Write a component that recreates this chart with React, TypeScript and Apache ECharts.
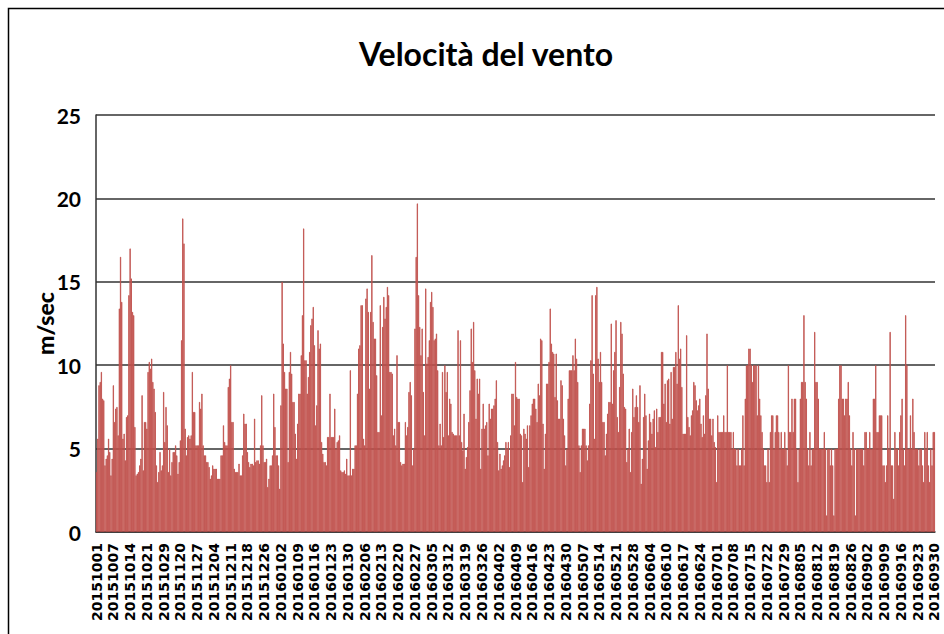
import React, { useEffect, useRef } from "react";
import * as echarts from "echarts";

const TITLE = "Velocità del vento";
const Y_NAME = "m/sec";
const Y_MIN = 0;
const Y_MAX = 25;
const Y_STEP = 5;

const TICK_LABELS = [
  "20151001", "20151007", "20151014", "20151021", "20151029", "20151120", "20151127",
  "20151204", "20151211", "20151218", "20151226", "20160102", "20160109", "20160116",
  "20160123", "20160130", "20160206", "20160213", "20160220", "20160227", "20160305",
  "20160312", "20160319", "20160326", "20160402", "20160409", "20160416", "20160423",
  "20160430", "20160507", "20160514", "20160521", "20160528", "20160604", "20160610",
  "20160617", "20160624", "20160701", "20160708", "20160715", "20160722", "20160729",
  "20160805", "20160812", "20160819", "20160826", "20160902", "20160909", "20160916",
  "20160923", "20160930",
];
const READINGS_PER_LABEL = 14;

const WIND_OCT_NOV = [
  3.6, 5.6, 8.8, 9.0, 9.6, 8.0, 7.9, 4.0, 4.4, 4.6,
  5.6, 4.8, 3.4, 4.4, 8.8, 6.6, 7.4, 7.5, 5.8, 13.4,
  16.5, 13.8, 5.6, 5.9, 4.3, 6.9, 7.0, 14.2, 17.0, 15.2,
  13.2, 13.0, 6.3, 3.4, 3.5, 3.6, 4.0, 4.4, 8.2, 3.7,
  6.6, 6.6, 6.2, 9.6, 10.2, 9.8, 10.4, 9.0, 8.6, 7.2,
  4.0, 3.0, 3.6, 4.8, 3.7, 4.0, 8.4, 5.4, 7.5, 6.4,
  3.6, 5.0, 3.4, 4.2, 4.8, 4.8, 5.2, 4.6, 3.5, 4.2,
  5.5, 11.5, 18.8, 17.3, 6.2, 4.6, 5.7, 5.8, 5.6, 5.8,
  9.6, 7.2, 7.2, 5.2, 5.2, 5.2, 7.8, 7.4, 8.3, 5.2,
  4.6, 4.6, 4.2, 4.2, 3.9, 3.2, 3.4, 4.0, 3.8, 3.8,
  3.8, 3.2, 3.2, 3.2, 4.6, 4.6, 6.4, 5.4, 5.2, 5.2,
  8.7, 9.2, 10.0, 6.6, 6.6, 3.8, 3.6, 3.6,
];
const WIND_DEC_JAN = [
  3.6, 4.1, 3.4, 3.4, 4.6, 7.1, 6.5, 6.5, 4.8, 4.2,
  3.9, 4.1, 4.1, 4.0, 6.8, 4.2, 4.3, 4.3, 4.1, 5.2,
  8.2, 5.2, 4.2, 4.2, 4.4, 2.7, 3.2, 4.0, 4.0, 4.6,
  8.3, 6.3, 4.6, 4.6, 4.0, 2.6, 7.6, 15.0, 11.3, 9.6,
  8.6, 8.6, 4.2, 9.6, 10.8, 9.5, 7.8, 7.8, 5.9, 4.4,
  6.5, 8.3, 8.3, 10.6, 13.0, 18.2, 10.3, 10.3, 8.3, 9.3,
  10.8, 12.4, 12.8, 13.5, 11.2, 6.4, 7.6, 12.1, 11.0, 11.3,
  5.4, 4.7, 4.2, 4.2, 4.0, 5.7, 5.7, 8.3, 5.7, 5.7,
  5.7, 7.4, 5.0, 5.4, 5.5, 5.8, 3.7, 3.6, 3.6, 3.7,
  3.5, 4.4, 3.4, 3.4, 9.7, 3.4, 3.8, 3.8, 5.2, 5.2,
  8.3, 11.0, 11.2, 13.6, 13.6, 5.6, 5.2, 14.0, 14.6, 13.2,
  8.6, 13.2, 16.6, 12.6, 11.6, 11.6, 9.4, 6.0, 6.0,
];
const WIND_FEB_MAR = [
  13.6, 7.0, 12.3, 14.1, 12.8, 13.5, 14.7, 14.2, 9.6, 9.6,
  9.5, 5.8, 6.2, 5.2, 10.6, 6.6, 6.6, 4.2, 4.0, 4.1,
  4.1, 6.6, 5.8, 6.3, 8.4, 9.0, 8.2, 4.0, 5.0, 12.2,
  16.5, 19.7, 14.2, 12.3, 10.6, 12.2, 8.4, 5.8, 14.6, 10.1,
  10.5, 11.5, 13.8, 14.4, 13.5, 11.5, 11.6, 11.9, 9.7, 5.2,
  6.5, 5.2, 9.6, 5.7, 10.0, 8.4, 9.6, 5.8, 8.0, 7.7,
  6.0, 5.9, 5.8, 5.8, 5.8, 12.1, 5.8, 11.5, 5.4, 4.9,
  7.1, 3.8, 4.5, 5.1, 6.6, 8.5, 12.2, 10.2, 12.6, 9.7,
  6.8, 9.2, 8.3, 9.2, 3.8, 6.2, 7.7, 6.2, 6.4, 6.6,
  4.6, 7.7, 6.8, 7.4, 7.4, 7.6, 8.0, 9.1, 5.4, 3.7,
  4.7, 3.8, 4.0, 4.3, 4.6, 5.4, 5.0, 5.4, 3.9, 5.8,
  8.3, 8.3, 6.4, 10.2, 8.1, 8.0, 8.0, 5.9,
];
const WIND_APR_MAY = [
  5.8, 3.0, 6.2, 5.9, 5.6, 6.4, 3.9, 6.4, 7.0, 7.7,
  8.0, 8.0, 7.4, 6.6, 8.9, 8.2, 11.6, 11.5, 6.5, 3.8,
  5.9, 8.9, 8.9, 10.2, 13.4, 11.3, 10.8, 10.7, 8.1, 10.7,
  7.9, 6.8, 6.8, 9.1, 8.8, 6.8, 5.8, 4.0, 5.0, 8.0,
  9.7, 9.7, 9.7, 10.6, 9.7, 11.6, 10.4, 9.0, 5.2, 3.6,
  5.2, 6.2, 6.2, 6.2, 5.2, 4.3, 5.2, 7.7, 10.3, 14.2,
  9.5, 5.6, 14.2, 14.7, 10.4, 9.0, 10.8, 9.0, 6.6, 6.6,
  4.6, 5.9, 7.1, 7.8, 7.8, 12.5, 7.7, 9.7, 10.8, 12.7,
  6.9, 6.0, 8.7, 12.6, 11.9, 9.5, 7.5, 7.4, 4.2, 5.0,
  6.2, 3.6, 6.0, 8.6, 6.9, 7.5, 8.2, 7.5, 6.6, 8.8,
  2.9, 4.4, 6.9, 8.3, 7.0, 3.8, 5.5, 7.1, 6.6, 5.9,
  6.8, 7.3, 5.1, 7.4, 6.0, 6.9, 6.9, 10.8, 10.8,
];
const WIND_JUN_AUG = [
  7.7, 8.9, 6.6, 9.1, 9.2, 6.5, 9.6, 6.8, 9.9, 9.9,
  10.8, 8.9, 13.6, 10.4, 11.0, 8.7, 5.9, 5.9, 5.9, 11.8,
  6.9, 6.3, 5.8, 7.0, 7.3, 9.0, 8.8, 7.9, 7.3, 7.6,
  8.0, 6.5, 5.7, 7.0, 5.9, 8.2, 11.9, 8.6, 6.8, 6.8,
  5.8, 6.8, 5.4, 5.1, 3, 7, 6, 6, 6, 6,
  7, 6, 6, 10, 6, 6, 6, 5, 6, 5,
  5, 4, 5, 4, 4, 5, 7, 4, 8, 10,
  10, 11, 11, 10, 9, 10, 10, 10, 7, 10,
  8, 7, 6, 5, 4, 4, 3, 5, 3, 6,
  7, 7, 5, 6, 7, 7, 6, 5, 6, 5,
  5, 6, 5, 4, 10, 6, 6, 8, 6, 8,
  8, 5, 3, 5, 8, 9, 9, 13, 9,
];
const WIND_AUG_SEP = [
  8, 5, 4, 6, 4, 5, 5, 12, 9, 9,
  8, 5, 5, 5, 5, 6, 5, 1, 5, 5,
  4, 5, 4, 1, 5, 5, 5, 8, 10, 10,
  8, 8, 7, 8, 8, 9, 7, 5, 4, 6,
  5, 1, 5, 5, 5, 5, 5, 5, 4, 6,
  6, 5, 5, 6, 5, 5, 8, 8, 10, 6,
  6, 7, 7, 7, 4, 4, 3, 4, 7, 5,
  12, 4, 4, 2, 6, 5, 5, 4, 6, 7,
  8, 5, 4, 13, 10, 5, 5, 7, 5, 8,
  6, 5, 5, 5, 4, 5, 5, 4, 3, 6,
  5, 6, 4, 3, 5, 4, 6, 6,
];

const WIND = [
  ...WIND_OCT_NOV,
  ...WIND_DEC_JAN,
  ...WIND_FEB_MAR,
  ...WIND_APR_MAY,
  ...WIND_JUN_AUG,
  ...WIND_AUG_SEP,
];

function pad(n: number): string {
  return n < 10 ? "0" + n : String(n);
}

function buildCategories(): string[] {
  const cats: string[] = [];
  for (let i = 0; i < TICK_LABELS.length - 1; i++) {
    const s = TICK_LABELS[i];
    const base = Date.UTC(+s.slice(0, 4), +s.slice(4, 6) - 1, +s.slice(6, 8));
    for (let m = 0; m < READINGS_PER_LABEL; m++) {
      const d = new Date(base + Math.floor(m / 2) * 86400000);
      const str = d.getUTCFullYear() + pad(d.getUTCMonth() + 1) + pad(d.getUTCDate());
      cats.push(str + (m % 2 ? " 12h" : " 00h"));
    }
  }
  cats.push(TICK_LABELS[TICK_LABELS.length - 1] + " 00h");
  return cats;
}

const HUMANIST = "Lato, 'Noto Sans', sans-serif";
const BAR_RED = "#C0504D";

export default function App() {
  const ref = useRef<HTMLDivElement>(null);

  useEffect(() => {
    if (!ref.current) return;
    const chart = echarts.init(ref.current, null, { renderer: "svg" });
    const categories = buildCategories();
    chart.setOption({
      animation: false,
      backgroundColor: "#ffffff",
      title: {
        text: TITLE,
        left: 481,
        top: 32,
        textAlign: "center",
        textStyle: {
          fontFamily: HUMANIST,
          fontWeight: "bold",
          fontSize: 32,
          color: "#000000",
        },
      },
      grid: { left: 96, right: 9, top: 115, bottom: 102, containLabel: false },
      xAxis: {
        type: "category",
        data: categories,
        boundaryGap: true,
        axisTick: { show: false },
        axisLine: { show: true, lineStyle: { color: "#333333", width: 1.5 } },
        axisLabel: {
          interval: READINGS_PER_LABEL - 1,
          rotate: 90,
          margin: 11,
          fontFamily: "'DejaVu Sans', sans-serif",
          fontWeight: "bold",
          fontSize: 14,
          color: "#000000",
          formatter: (v: string) => v.slice(0, 8),
        },
        splitLine: { show: false },
      },
      yAxis: {
        type: "value",
        min: Y_MIN,
        max: Y_MAX,
        interval: Y_STEP,
        name: Y_NAME,
        nameLocation: "middle",
        nameRotate: 90,
        nameGap: 40,
        nameMoveOverlap: false,
        nameTextStyle: {
          fontFamily: HUMANIST,
          fontWeight: 900,
          fontSize: 23,
          color: "#000000",
        },
        axisLine: { show: true, lineStyle: { color: "#333333", width: 1.5 } },
        axisTick: { show: false },
        axisLabel: {
          margin: 15,
          fontFamily: HUMANIST,
          fontWeight: "bold",
          fontSize: 21,
          color: "#000000",
        },
        splitLine: { show: true, lineStyle: { color: "#333333", width: 1.5 } },
      },
      series: [
        {
          type: "bar",
          data: WIND,
          barCategoryGap: "0%",
          itemStyle: { color: BAR_RED, borderColor: BAR_RED, borderWidth: 0.8 },
          silent: true,
        },
      ],
      graphic: [
        {
          type: "rect",
          silent: true,
          z: 100,
          shape: { x: 8.5, y: 8.5, width: 1200, height: 1200 },
          style: { fill: "none", stroke: "#000000", lineWidth: 1.5 },
        },
      ],
    });
    return () => {
      chart.dispose();
    };
  }, []);

  return (
    <div
      ref={ref}
      style={{
        position: "fixed",
        left: 0,
        top: 0,
        width: 944,
        height: 634,
        background: "#ffffff",
      }}
    />
  );
}
